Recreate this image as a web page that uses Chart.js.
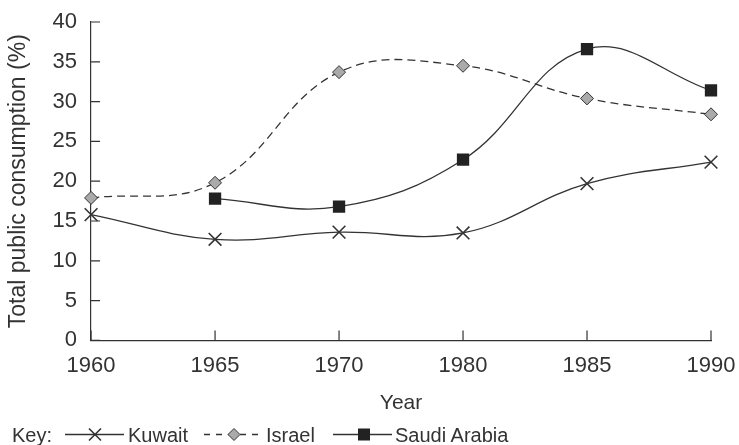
<!DOCTYPE html>
<html>
<head>
<meta charset="utf-8">
<script src="https://cdn.jsdelivr.net/npm/chart.js@4/dist/chart.umd.min.js"></script>
<style>
  html, body { margin: 0; padding: 0; background: #fff; }
  #wrap { position: relative; width: 739px; height: 445px; }
  #key { position: absolute; left: 0; top: 424px; width: 739px; height: 21px;
    font: 20px "Liberation Sans", Arial, sans-serif; color: #333; }
  #key span { position: absolute; top: 0; line-height: 22px; white-space: nowrap; }
  #key svg { position: absolute; left: 0; top: 0; }
</style>
</head>
<body>
<div id="wrap">
  <canvas id="chart" width="739" height="445"></canvas>
  <div id="key">
    <svg width="739" height="21">
      <line x1="65" y1="10.5" x2="124" y2="10.5" stroke="#333" stroke-width="1.3"/>
      <path d="M89 4.5 L101 16.5 M101 4.5 L89 16.5" stroke="#333" stroke-width="1.6"/>
      <line x1="204" y1="10.5" x2="263" y2="10.5" stroke="#333" stroke-width="1.3" stroke-dasharray="6,6"/>
      <path d="M234 4.5 L240 10.5 L234 16.5 L228 10.5 Z" fill="#aaa" stroke="#333" stroke-width="1"/>
      <line x1="333" y1="10.5" x2="392" y2="10.5" stroke="#333" stroke-width="1.3"/>
      <rect x="358" y="4.5" width="12" height="12" fill="#222"/>
    </svg>
    <span style="left:12px">Key:</span>
    <span style="left:128px">Kuwait</span>
    <span style="left:266px">Israel</span>
    <span style="left:395px">Saudi Arabia</span>
  </div>
</div>
<script>
const years = ['1960', '1965', '1970', '1980', '1985', '1990'];
const kuwait = [15.8, 12.7, 13.6, 13.5, 19.7, 22.4];
const israel = [17.9, 19.8, 33.7, 34.5, 30.4, 28.4];
const saudiArabia = [null, 17.8, 16.8, 22.7, 36.6, 31.4];
const yTicks = [0, 5, 10, 15, 20, 25, 30, 35, 40];

const FONT = '"Liberation Sans", Arial, sans-serif';
const INK = '#333';

// tick marks drawn on the inside of the axes
const innerTicks = {
  id: 'innerTicks',
  afterDraw(chart) {
    const ctx = chart.ctx;
    const x = chart.scales.x, y = chart.scales.y;
    ctx.save();
    ctx.strokeStyle = INK;
    ctx.lineWidth = 1.2;
    ctx.beginPath();
    years.forEach((yr, i) => {
      const px = x.getPixelForValue(i);
      ctx.moveTo(px, y.bottom);
      ctx.lineTo(px, y.bottom - 10);
    });
    yTicks.forEach(v => {
      const py = y.getPixelForValue(v);
      ctx.moveTo(x.left, py);
      ctx.lineTo(x.left + 9, py);
    });
    ctx.stroke();
    ctx.restore();
  }
};

new Chart(document.getElementById('chart'), {
  type: 'line',
  data: {
    labels: years,
    datasets: [
      {
        label: 'Kuwait', data: kuwait,
        borderColor: INK, borderWidth: 1.3, tension: 0.4,
        pointStyle: 'crossRot', pointRadius: 9, pointBorderWidth: 1.6,
        pointBorderColor: INK, pointBackgroundColor: INK
      },
      {
        label: 'Israel', data: israel,
        borderColor: INK, borderWidth: 1.3, borderDash: [8, 5], tension: 0.4,
        pointStyle: 'rectRot', pointRadius: 6.5, pointBorderWidth: 1,
        pointBorderColor: INK, pointBackgroundColor: '#aaa'
      },
      {
        label: 'Saudi Arabia', data: saudiArabia,
        borderColor: INK, borderWidth: 1.3, tension: 0.4,
        pointStyle: 'rect', pointRadius: 8.7, pointBorderWidth: 0,
        pointBorderColor: '#222', pointBackgroundColor: '#222'
      }
    ]
  },
  options: {
    responsive: false,
    animation: false,
    layout: { padding: { top: 0, right: 0, bottom: 29, left: 5 } },
    plugins: { legend: { display: false }, tooltip: { enabled: false } },
    scales: {
      x: {
        offset: false,
        afterFit: s => { s.paddingRight = 28; },
        border: { color: INK, width: 1.2 },
        grid: { display: false, drawTicks: false },
        ticks: { color: INK, font: { family: FONT, size: 22 }, padding: 12, maxRotation: 0 },
        title: { display: true, text: 'Year', color: INK, font: { family: FONT, size: 21 }, padding: { top: 0, bottom: 0 } }
      },
      y: {
        min: 0, max: 40,
        afterFit: s => { s.paddingTop = 22; },
        border: { color: INK, width: 1.2 },
        grid: { display: false, drawTicks: false },
        ticks: { stepSize: 5, color: INK, font: { family: FONT, size: 22 }, padding: 14 },
        title: { display: true, text: 'Total public consumption (%)', color: INK, font: { family: FONT, size: 23 }, padding: { top: 0, bottom: 6 } }
      }
    }
  },
  plugins: [innerTicks]
});
</script>
</body>
</html>
